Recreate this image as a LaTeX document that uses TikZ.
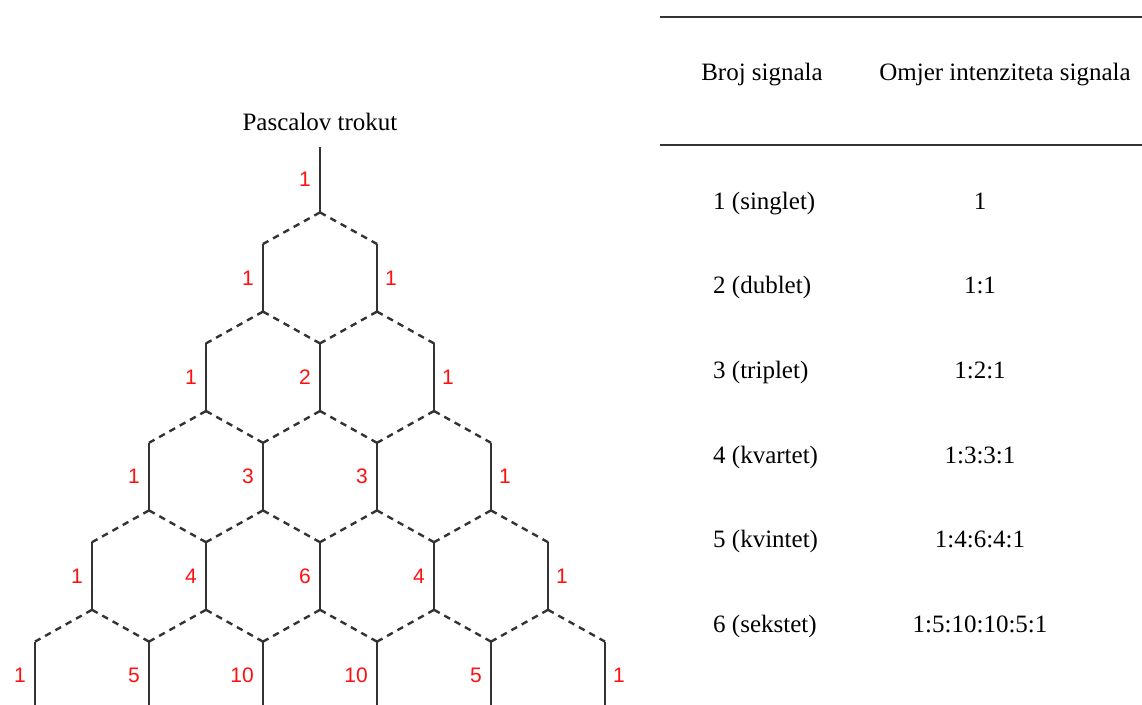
\documentclass[tikz,border=0pt]{standalone}
\usepackage{fontspec}
\setmainfont{Liberation Serif}
\newfontfamily\labfont{Liberation Sans}
\definecolor{ln}{HTML}{333333}
\definecolor{lab}{HTML}{FF1010}
\begin{document}
\begin{tikzpicture}[x=1pt,y=-1pt,
  solidedge/.style={draw=ln, line width=2.4pt},
  dashedge/.style={draw=ln, line width=2.4pt, dash pattern=on 6.5pt off 5.3pt},
  numlab/.style={text=lab, font=\labfont\fontsize{21}{25}\selectfont, inner sep=0pt},
  serif/.style={font=\fontsize{25}{30}\selectfont, inner sep=0pt, anchor=base},
  rulestyle/.style={draw=ln, line width=2.6pt}]
\useasboundingbox (0,0) rectangle (1142,704);
% vertices
\coordinate (t-0-0) at (320,147);
\coordinate (b-0-0) at (320,212.4);
\coordinate (m-0-0) at (320,179.7);
\foreach \k in {1,...,5}{
  \foreach \j in {0,...,\k}{
    \coordinate (t-\k-\j) at ({320+57*(2*\j-\k)},{244+99.4*(\k-1)});
    \coordinate (b-\k-\j) at ({320+57*(2*\j-\k)},{311.6+99.4*(\k-1)});
    \coordinate (m-\k-\j) at ({320+57*(2*\j-\k)},{277.8+99.4*(\k-1)});
  }
}
% solid verticals
\foreach \k in {0,...,5}{
  \foreach \j in {0,...,\k}{
    \draw[solidedge] (t-\k-\j) -- (b-\k-\j);
  }
}
% dashed diagonals
\foreach \k [evaluate=\k as \kk using int(\k+1)] in {0,...,4}{
  \foreach \j [evaluate=\j as \jj using int(\j+1)] in {0,...,\k}{
    \draw[dashedge] (b-\k-\j) -- (t-\kk-\j);
    \draw[dashedge] (b-\k-\j) -- (t-\kk-\jj);
  }
}
% labels
\node[numlab, anchor=east] (lab-0-0) at ([xshift=-9pt]m-0-0) {1};
\foreach \k in {1,...,5}{
  \foreach \j in {0,...,\k}{
    \pgfmathtruncatemacro\v{round(factorial(\k)/(factorial(\j)*factorial(\k-\j)))}
    \ifnum\j=\k
      \node[numlab, anchor=west] (lab-\k-\j) at ([xshift=8pt]m-\k-\j) {\v};
    \else
      \node[numlab, anchor=east] (lab-\k-\j) at ([xshift=-9pt]m-\k-\j) {\v};
    \fi
  }
}
% title
\node[serif] (title) at (320,130) {Pascalov trokut};
% table
\coordinate (ra) at (660,17);
\coordinate (rb) at (1142,17);
\coordinate (rc) at (660,145);
\coordinate (rd) at (1142,145);
\draw[rulestyle] (ra) -- (rb);
\draw[rulestyle] (rc) -- (rd);
\node[serif] (h1) at (762,80) {Broj signala};
\node[serif] (h2) at (1005,80) {Omjer intenziteta signala};
\foreach \i/\a/\b in {1/1 (singlet)/1, 2/2 (dublet)/1:1, 3/3 (triplet)/1:2:1,
    4/4 (kvartet)/1:3:3:1, 5/5 (kvintet)/1:4:6:4:1, 6/6 (sekstet)/1:5:10:10:5:1}{
  \node[serif, anchor=base west] (c1-\i) at (713,{209+84.7*(\i-1)}) {\a};
  \node[serif] (c2-\i) at (980,{209+84.7*(\i-1)}) {\b};
}
\end{tikzpicture}
\end{document}
